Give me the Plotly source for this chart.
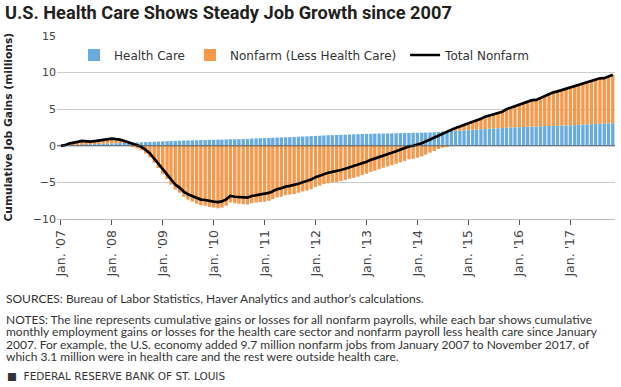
import plotly.graph_objects as go
import pandas as pd

# Months: Jan 2007 .. Nov 2017
months = pd.date_range("2007-01-01", "2017-11-01", freq="MS")

# Cumulative change since Jan 2007, millions
total_nonfarm = [
    0.00, 0.09, 0.30, 0.38, 0.53, 0.68, 0.60, 0.56, 0.64, 0.72, 0.84, 0.92,
    0.98, 0.90, 0.84, 0.66, 0.47, 0.29, 0.10, -0.14, -0.55, -1.05, -1.75, -2.45,
    -3.20, -3.92, -4.65, -5.30, -5.72, -6.25, -6.62, -6.88, -7.15, -7.35, -7.40, -7.56,
    -7.62, -7.70, -7.60, -7.32, -6.85, -6.96, -7.02, -7.05, -7.08, -6.86, -6.74, -6.66,
    -6.60, -6.44, -6.20, -5.92, -5.80, -5.58, -5.48, -5.38, -5.18, -4.98, -4.82, -4.62,
    -4.28, -4.05, -3.80, -3.68, -3.56, -3.46, -3.30, -3.14, -2.96, -2.80, -2.62, -2.40,
    -2.18, -1.92, -1.76, -1.54, -1.32, -1.14, -0.96, -0.74, -0.54, -0.32, -0.08, 0.00,
    0.16, 0.34, 0.60, 0.88, 1.13, 1.44, 1.69, 1.93, 2.20, 2.42, 2.64, 2.86,
    3.06, 3.30, 3.40, 3.68, 3.98, 4.15, 4.42, 4.55, 4.66, 5.00, 5.22, 5.48,
    5.62, 5.85, 6.06, 6.24, 6.27, 6.54, 6.86, 7.03, 7.30, 7.44, 7.62, 7.78,
    8.02, 8.24, 8.37, 8.54, 8.68, 8.90, 9.04, 9.22, 9.24, 9.48, 9.70,
]

health_care = [
    0.00, 0.03, 0.06, 0.09, 0.11, 0.14, 0.17, 0.19, 0.22, 0.25, 0.27, 0.30,
    0.32, 0.35, 0.37, 0.40, 0.42, 0.44, 0.46, 0.48, 0.51, 0.53, 0.56, 0.58,
    0.61, 0.63, 0.65, 0.67, 0.69, 0.71, 0.73, 0.74, 0.76, 0.78, 0.79, 0.81,
    0.82, 0.84, 0.85, 0.87, 0.89, 0.90, 0.90, 0.92, 0.94, 0.99, 1.01, 1.03,
    1.05, 1.07, 1.10, 1.13, 1.15, 1.17, 1.19, 1.21, 1.24, 1.27, 1.29, 1.32,
    1.35, 1.38, 1.41, 1.44, 1.46, 1.48, 1.50, 1.52, 1.55, 1.57, 1.59, 1.61,
    1.63, 1.64, 1.66, 1.67, 1.68, 1.69, 1.70, 1.72, 1.73, 1.74, 1.76, 1.77,
    1.78, 1.79, 1.80, 1.82, 1.84, 1.88, 1.95, 2.00, 2.03, 2.05, 2.08, 2.12,
    2.15, 2.18, 2.22, 2.26, 2.30, 2.34, 2.37, 2.40, 2.43, 2.46, 2.49, 2.52,
    2.54, 2.57, 2.60, 2.62, 2.64, 2.67, 2.69, 2.71, 2.73, 2.75, 2.77, 2.79,
    2.81, 2.83, 2.85, 2.88, 2.92, 2.96, 2.99, 3.01, 3.04, 3.07, 3.10,
]

nonfarm_less_hc = [round(t - h, 2) for t, h in zip(total_nonfarm, health_care)]

y_ticks = [-10, -5, 0, 5, 10, 15]

BLUE = "#68acdf"
ORANGE = "#f7984a"
TXT = "#333333"

W, H = 621, 387
L, R, T, B = 57, 6, 36, 168
PW, PH = W - L - R, H - T - B


def px_x(x):
    return (x - L) / PW


def px_y(y):
    return (H - B - y) / PH


bar_w = 24 * 24 * 3600 * 1000  # ms

fig = go.Figure()
fig.add_trace(go.Bar(x=months, y=health_care, name="Health Care",
                     marker=dict(color=BLUE, line=dict(width=0)), width=bar_w))
fig.add_trace(go.Bar(x=months, y=nonfarm_less_hc, name="Nonfarm (Less Health Care)\u00a0",
                     marker=dict(color=ORANGE, line=dict(width=0)), width=bar_w))
fig.add_trace(go.Scatter(x=months, y=total_nonfarm, name="Total Nonfarm", mode="lines",
                         line=dict(color="#000000", width=2.7)))

fig.add_shape(type="line", xref="paper", yref="y", x0=0, x1=1, y0=0, y1=0,
              line=dict(color="rgba(80,80,80,0.55)", width=1.5), layer="above")

ann = []
ann.append(dict(text="Cumulative Job Gains (millions)", textangle=-90,
                x=px_x(7.5), y=px_y(127), xref="paper", yref="paper",
                xanchor="center", yanchor="middle", showarrow=False,
                font=dict(family="DejaVu Sans", size=10.7, color="#222222", weight="bold")))

note_font = dict(family="Lato", size=12, color=TXT)
lines = [
    ("SOURCES: Bureau of Labor Statistics, Haver Analytics and author\u2019s calculations.", 298),
    ("NOTES: The line represents cumulative gains or losses for all nonfarm payrolls, while each bar shows cumulative", 319),
    ("monthly employment gains or losses for the health care sector and nonfarm payroll less health care since January", 331.6),
    ("2007. For example, the U.S. economy added 9.7 million nonfarm jobs from January 2007 to November 2017, of", 344.2),
    ("which 3.1 million were in health care and the rest were outside health care.", 356.8),
]
for txt, yy in lines:
    ann.append(dict(text=txt, x=px_x(5), y=px_y(yy), xref="paper", yref="paper",
                    xanchor="left", yanchor="middle", showarrow=False, font=note_font,
                    borderpad=0))
ann.append(dict(text="\u25a0  FEDERAL RESERVE BANK OF ST. LOUIS", x=px_x(5), y=px_y(376.4),
                xref="paper", yref="paper", xanchor="left", yanchor="middle", showarrow=False,
                font=dict(family="DejaVu Sans", size=10.5, color=TXT)))

fig.update_layout(
    width=W, height=H,
    margin=dict(l=L, r=R, t=T, b=B, autoexpand=False),
    paper_bgcolor="white", plot_bgcolor="white",
    barmode="relative", bargap=0.2,
    title=dict(text="<b>U.S. Health Care Shows Steady Job Growth since 2007</b>",
               xref="container", yref="container", x=5 / W, y=1 - 13 / H,
               xanchor="left", yanchor="middle",
               font=dict(family="Roboto", size=18.2, color="#231f20")),
    legend=dict(orientation="h", x=px_x(74), y=px_y(55), xanchor="left", yanchor="middle",
                bgcolor="rgba(0,0,0,0)", traceorder="normal",
                font=dict(family="DejaVu Sans", size=12, color=TXT)),
    showlegend=True,
    annotations=ann,
    xaxis=dict(type="date", range=["2006-12-05", "2017-11-17"],
               tick0="2007-01-01", dtick="M12", tickformat="%b. '%y", tickangle=-90,
               ticks="outside", ticklen=5, tickcolor="#555555", tickwidth=1,
               showline=True, linecolor="#bbbbbb", linewidth=1,
               showgrid=False, zeroline=False,
               tickfont=dict(family="DejaVu Sans", size=12.5, color="#444444")),
    yaxis=dict(range=[-10, 15], tickvals=y_ticks, showgrid=True, gridcolor="#cccccc", gridwidth=1,
               zeroline=True, zerolinecolor="#aaaaaa", zerolinewidth=1,
               showline=False, ticks="", ticklabelstandoff=0,
               tickfont=dict(family="DejaVu Sans", size=11, color="#444444")),
)

fig.write_html("out.html", config={"displayModeBar": False},
               post_script="document.body.style.margin='0px';")
